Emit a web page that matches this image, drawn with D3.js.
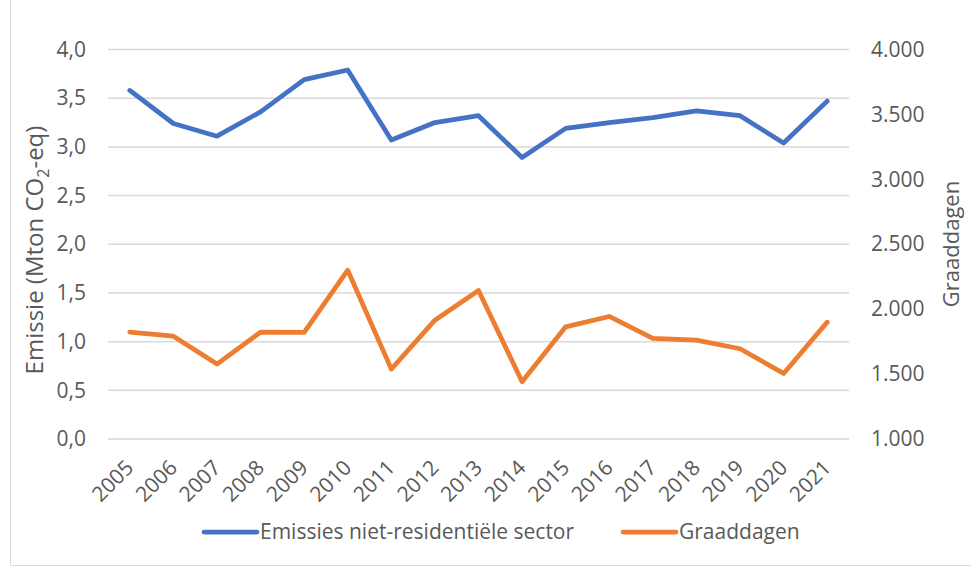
<!DOCTYPE html>
<html>
<head>
<meta charset="utf-8">
<script src="https://cdn.jsdelivr.net/npm/d3@7"></script>
<style>
  body { margin: 0; background: #fff; }
  text { font-family: "Open Sans", "Noto Sans", sans-serif; fill: #595959; }
</style>
</head>
<body>
<div id="chart"></div>
<script>
// data
const years = ["2005","2006","2007","2008","2009","2010","2011","2012","2013","2014","2015","2016","2017","2018","2019","2020","2021"];
const emissies = [3.58, 3.24, 3.11, 3.36, 3.69, 3.79, 3.07, 3.25, 3.32, 2.89, 3.19, 3.25, 3.30, 3.37, 3.32, 3.04, 3.47];
const graaddagen = [1823, 1792, 1577, 1823, 1821, 2300, 1538, 1915, 2144, 1441, 1864, 1944, 1775, 1762, 1695, 1505, 1900];
const leftTicks = [0, 0.5, 1, 1.5, 2, 2.5, 3, 3.5, 4];
const rightTicks = [1000, 1500, 2000, 2500, 3000, 3500, 4000];

const W = 971, H = 567;
const plot = {left: 108, right: 849, top: 49.5, bottom: 439};

const svg = d3.select("#chart").append("svg")
  .attr("width", W).attr("height", H);

// chart frame
svg.append("line").attr("x1", 10.5).attr("x2", 10.5).attr("y1", 0).attr("y2", 565.5)
  .attr("stroke", "#d9d9d9");
svg.append("line").attr("x1", 10.5).attr("x2", W).attr("y1", 565.5).attr("y2", 565.5)
  .attr("stroke", "#d9d9d9");

const x = d3.scalePoint().domain(years).range([plot.left, plot.right]).padding(0.5);
const yL = d3.scaleLinear().domain([0, 4]).range([plot.bottom, plot.top]);
const yR = d3.scaleLinear().domain([1000, 4000]).range([plot.bottom, plot.top]);

// gridlines
svg.append("g")
  .selectAll("line")
  .data(leftTicks)
  .join("line")
    .attr("x1", plot.left).attr("x2", plot.right)
    .attr("y1", d => yL(d)).attr("y2", d => yL(d))
    .attr("stroke", "#d9d9d9").attr("stroke-width", 1.5);

const fmtL = d => d3.format(".1f")(d).replace(".", ",");
const fmtR = d => d3.format(",")(d).replace(/,/g, ".");

// left axis
const gL = svg.append("g")
  .attr("transform", `translate(${plot.left},0)`)
  .call(d3.axisLeft(yL).tickValues(leftTicks).tickFormat(fmtL).tickSize(0).tickPadding(22));
gL.select(".domain").remove();
gL.selectAll("text").style("font-size", "21px").attr("fill", "#595959");

// right axis
const gR = svg.append("g")
  .attr("transform", `translate(${plot.right},0)`)
  .call(d3.axisRight(yR).tickValues(rightTicks).tickFormat(fmtR).tickSize(0).tickPadding(22));
gR.select(".domain").remove();
gR.selectAll("text").style("font-size", "21px").attr("fill", "#595959");

// x axis labels, rotated
svg.append("g")
  .selectAll("text")
  .data(years)
  .join("text")
    .attr("transform", d => `translate(${x(d) + 5},469) rotate(-45)`)
    .attr("text-anchor", "end")
    .style("font-size", "21px")
    .text(d => d);

// axis titles
const tL = svg.append("text")
  .attr("transform", `translate(43,250) rotate(-90)`)
  .attr("text-anchor", "middle")
  .style("font-size", "24px");
tL.append("tspan").text("Emissie (Mton CO");
tL.append("tspan").attr("dy", 6).style("font-size", "16px").text("2");
tL.append("tspan").attr("dy", -6).text("-eq)");

svg.append("text")
  .attr("transform", `translate(959,244) rotate(-90)`)
  .attr("text-anchor", "middle")
  .style("font-size", "22px")
  .text("Graaddagen");

// lines
const lineL = d3.line().x((d, i) => x(years[i])).y(d => yL(d));
const lineR = d3.line().x((d, i) => x(years[i])).y(d => yR(d));

svg.append("path").datum(graaddagen)
  .attr("d", lineR).attr("fill", "none")
  .attr("stroke", "#ED7D31").attr("stroke-width", 4.75)
  .attr("stroke-linejoin", "round").attr("stroke-linecap", "round");

svg.append("path").datum(emissies)
  .attr("d", lineL).attr("fill", "none")
  .attr("stroke", "#4472C4").attr("stroke-width", 4.75)
  .attr("stroke-linejoin", "round").attr("stroke-linecap", "round");

// legend
const legend = [
  {name: "Emissies niet-residentiële sector", color: "#4472C4", x: 204},
  {name: "Graaddagen", color: "#ED7D31", x: 623}
];
const lg = svg.append("g").selectAll("g").data(legend).join("g")
  .attr("transform", d => `translate(${d.x},532)`);
lg.append("line").attr("x1", 0).attr("x2", 53).attr("y1", 0).attr("y2", 0)
  .attr("stroke", d => d.color).attr("stroke-width", 4.75).attr("stroke-linecap", "round");
lg.append("text").attr("x", 56).attr("dy", "0.35em").style("font-size", "21px").text(d => d.name);
</script>
</body>
</html>
